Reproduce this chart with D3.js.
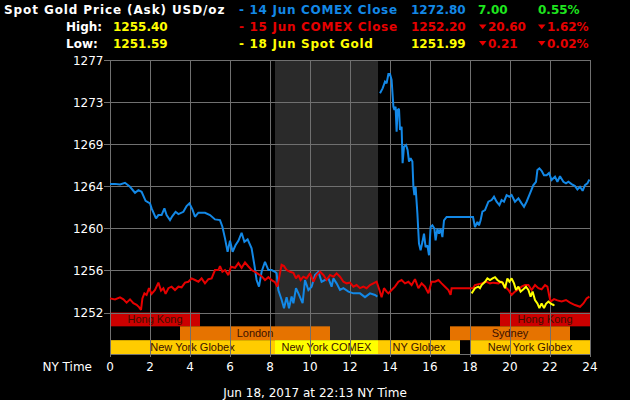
<!DOCTYPE html>
<html><head><meta charset="utf-8">
<script src="https://cdn.jsdelivr.net/npm/d3@7"></script>
<style>html,body{margin:0;padding:0;background:#000;}svg{display:block}</style>
</head><body>
<svg id="c" width="630" height="400"></svg>
<script>
// ---------------- DATA ----------------
const titleText = "Spot Gold Price (Ask) USD/oz";
const statLabels = ["High:", "Low:"];
const statValues = ["1255.40", "1251.59"];
const seriesNames = ["14 Jun COMEX Close", "15 Jun COMEX Close", "18 Jun Spot Gold"];
const seriesClose = ["1272.80", "1252.20", "1251.99"];
const seriesChange = ["7.00", "20.60", "0.21"];
const seriesPct = ["0.55%", "1.62%", "0.02%"];
const seriesDown = [false, true, true];

const xTickValues = [0, 2, 4, 6, 8, 10, 12, 14, 16, 18, 20, 22, 24];
const yTickValues = [1252, 1256.17, 1260.33, 1264.5, 1268.67, 1272.83, 1277];
const yTickLabels = ["1252", "1256", "1260", "1264", "1269", "1273", "1277"];
const xAxisTitle = "NY Time";
const footerText = "Jun 18, 2017 at 22:13 NY Time";

const closedPeriod = [8.25, 13.4];

const sessionNames = ["Hong Kong", "London", "New York Globex", "New York COMEX", "NY Globex", "Hong Kong", "Sydney", "New York Globex"];
const sessionStart = [0, 3.5, 0, 8.25, 13.4, 19.5, 17, 18];
const sessionEnd   = [4.5, 11, 8.25, 13.4, 17.5, 24, 23, 24];
const sessionRow   = [0, 1, 2, 2, 2, 0, 1, 2];
const sessionKind  = ["asia", "europe", "globex", "comex", "globex", "asia", "europe", "globex"];

const jun14 = [[0,1264.73],[0.25,1264.75],[0.5,1264.7],[0.75,1264.86],[1.0,1264.46],[1.25,1263.87],[1.42,1264.13],[1.58,1263.97],[1.78,1263.07],[2.0,1262.82],[2.08,1262.32],[2.3,1261.33],[2.42,1261.66],[2.58,1261.66],[2.72,1262.32],[2.83,1261.66],[3.0,1261.16],[3.12,1261.56],[3.28,1261.98],[3.42,1261.76],[3.67,1261.98],[3.83,1262.55],[3.97,1262.82],[4.12,1262.22],[4.25,1261.49],[4.42,1261.89],[4.75,1261.89],[5.0,1261.66],[5.25,1261.23],[5.5,1261.16],[5.62,1260.5],[5.75,1259.35],[5.88,1258.02],[6.0,1259.11],[6.13,1258.02],[6.28,1258.69],[6.42,1259.11],[6.58,1259.9],[6.72,1259.01],[6.88,1259.25],[7.08,1258.36],[7.22,1256.7],[7.33,1255.22],[7.45,1254.56],[7.58,1256.04],[7.75,1257.03],[7.92,1256.21],[8.08,1256.21],[8.25,1256.04],[8.33,1255.9],[8.42,1254.2],[8.58,1253.26],[8.7,1252.43],[8.83,1253.52],[8.95,1252.43],[9.08,1253.58],[9.17,1252.92],[9.3,1254.41],[9.42,1253.9],[9.5,1253.52],[9.63,1252.92],[9.75,1255.22],[9.92,1254.23],[10.08,1254.56],[10.25,1255.72],[10.42,1256.04],[10.58,1255.05],[10.75,1255.22],[10.92,1255.38],[11.08,1254.56],[11.17,1255.38],[11.33,1254.89],[11.5,1254.23],[11.67,1254.41],[11.92,1254.07],[12.17,1253.9],[12.5,1253.9],[12.75,1253.52],[13.0,1253.9],[13.25,1253.74],[13.37,1253.58],[13.45,null],[13.5,1273.73],[13.63,1274.22],[13.75,1274.88],[13.83,1274.72],[13.92,1275.64],[14.0,1275.64],[14.08,1275.05],[14.17,1272.4],[14.22,1272.08],[14.28,1272.4],[14.33,1269.93],[14.38,1272.08],[14.45,1272.2],[14.5,1270.1],[14.58,1270.42],[14.63,1266.8],[14.7,1268.44],[14.8,1268.61],[14.88,1268.11],[14.95,1266.96],[15.03,1267.3],[15.12,1266.96],[15.17,1264.46],[15.22,1263.64],[15.28,1264.46],[15.37,1261.79],[15.45,1258.82],[15.53,1258.16],[15.62,1258.98],[15.7,1259.81],[15.78,1258.49],[15.87,1258.65],[15.95,1257.67],[16.03,1260.47],[16.12,1260.64],[16.22,1260.31],[16.28,1259.15],[16.37,1260.31],[16.45,1259.81],[16.53,1260.31],[16.62,1259.48],[16.7,1261.14],[16.83,1261.47],[17.0,1261.47],[18.15,1261.47],[18.25,1260.47],[18.37,1260.97],[18.45,1260.64],[18.53,1261.14],[18.62,1262.0],[18.75,1262.15],[18.92,1262.98],[19.08,1263.15],[19.2,1263.48],[19.33,1262.98],[19.47,1262.65],[19.58,1263.15],[19.7,1262.98],[19.83,1263.64],[19.97,1263.48],[20.08,1263.64],[20.25,1262.98],[20.42,1263.31],[20.58,1262.82],[20.7,1262.48],[20.83,1262.98],[21.0,1263.81],[21.17,1264.63],[21.3,1264.96],[21.37,1266.12],[21.47,1266.29],[21.58,1266.05],[21.7,1265.6],[21.83,1265.6],[21.95,1265.83],[22.08,1265.13],[22.25,1265.46],[22.37,1264.96],[22.5,1265.51],[22.67,1264.96],[22.8,1264.8],[22.92,1264.96],[23.08,1264.73],[23.25,1264.53],[23.37,1264.2],[23.5,1264.46],[23.63,1264.07],[23.75,1264.63],[23.87,1264.8],[23.97,1265.19]];

const jun15 = [[0,1253.4],[0.25,1253.3],[0.5,1253.5],[0.67,1253.3],[0.83,1252.98],[1.0,1253.3],[1.17,1252.93],[1.33,1252.76],[1.45,1252.53],[1.55,1252.26],[1.62,1253.4],[1.72,1253.9],[1.83,1253.74],[1.95,1254.41],[2.08,1253.85],[2.25,1254.23],[2.42,1254.96],[2.55,1254.17],[2.67,1254.41],[2.78,1253.85],[2.92,1254.41],[3.08,1254.56],[3.25,1254.23],[3.42,1254.56],[3.58,1254.5],[3.75,1254.96],[3.92,1255.05],[4.08,1255.38],[4.25,1255.22],[4.42,1255.05],[4.58,1255.38],[4.75,1254.89],[4.92,1255.3],[5.08,1255.38],[5.25,1256.21],[5.42,1256.21],[5.5,1256.6],[5.62,1256.04],[5.75,1256.21],[5.92,1255.71],[6.05,1256.53],[6.25,1256.43],[6.42,1256.9],[6.58,1256.43],[6.75,1256.96],[6.92,1256.56],[7.08,1256.21],[7.25,1256.04],[7.42,1255.8],[7.58,1255.6],[7.75,1255.22],[7.92,1255.5],[8.08,1255.2],[8.25,1255.0],[8.37,1254.56],[8.5,1255.9],[8.58,1256.73],[8.7,1256.6],[8.83,1256.21],[9.0,1256.04],[9.17,1255.94],[9.3,1255.38],[9.42,1255.72],[9.53,1255.22],[9.67,1255.55],[9.83,1255.38],[10.0,1255.88],[10.17,1255.05],[10.33,1255.72],[10.5,1256.04],[10.67,1255.72],[10.83,1255.22],[11.0,1255.72],[11.17,1255.55],[11.33,1255.88],[11.5,1255.55],[11.67,1255.05],[11.83,1254.89],[12.0,1254.96],[12.17,1254.56],[12.33,1254.72],[12.5,1254.41],[12.67,1254.56],[12.83,1254.41],[13.0,1254.72],[13.17,1254.89],[13.33,1255.05],[13.47,1254.23],[13.58,1253.52],[13.7,1254.41],[13.83,1254.07],[13.92,1253.9],[14.08,1254.23],[14.25,1254.56],[14.42,1255.05],[14.58,1255.22],[14.75,1254.89],[14.92,1255.05],[15.08,1254.72],[15.25,1255.3],[15.42,1254.41],[15.58,1254.89],[15.75,1254.56],[15.92,1253.9],[16.08,1255.05],[16.25,1255.05],[16.42,1255.22],[16.58,1254.89],[16.75,1254.56],[16.92,1254.23],[17.03,1253.74],[17.08,1254.41],[18.15,1254.41],[18.25,1254.72],[18.58,1254.89],[18.83,1255.05],[19.0,1254.89],[19.17,1254.96],[19.42,1254.89],[19.58,1255.05],[19.75,1254.56],[19.92,1254.23],[20.08,1253.74],[20.25,1254.07],[20.42,1254.3],[20.58,1254.56],[20.75,1254.72],[20.92,1254.72],[21.08,1254.23],[21.25,1254.72],[21.42,1254.41],[21.58,1254.3],[21.75,1254.72],[21.87,1254.56],[21.97,1253.58],[22.03,1253.09],[22.2,1253.33],[22.37,1253.2],[22.58,1253.09],[22.8,1253.24],[23.0,1252.98],[23.25,1252.74],[23.5,1252.57],[23.67,1252.9],[23.83,1253.4],[23.97,1253.58]];

const jun18 = [[18.08,1253.9],[18.25,1254.41],[18.42,1254.56],[18.5,1254.41],[18.58,1254.72],[18.75,1255.05],[18.87,1255.38],[19.0,1255.22],[19.13,1255.38],[19.25,1255.5],[19.37,1255.22],[19.5,1255.05],[19.63,1254.96],[19.75,1254.41],[19.87,1255.38],[19.97,1255.05],[20.08,1255.38],[20.2,1254.89],[20.3,1254.23],[20.42,1254.56],[20.53,1254.07],[20.67,1254.3],[20.8,1254.56],[20.92,1254.23],[21.03,1253.58],[21.13,1254.07],[21.25,1253.24],[21.37,1252.9],[21.47,1252.43],[21.58,1252.9],[21.7,1252.43],[21.8,1252.86],[21.92,1253.09],[22.03,1252.9],[22.17,1252.74],[22.22,1252.8]];

// ---------------- STYLE ----------------
const BLUE = "#1388e6", RED = "#e60000", YELLOW = "#ffff00", GREEN = "#1ee61e";
const seriesColors = [BLUE, RED, YELLOW];
const kindColor = {asia: "#cc0000", europe: "#e67300", globex: "#ffcc00", comex: "#ffff00"};
const GRID = "#707070";
const FONT = "'DejaVu Sans', Verdana, sans-serif";

const W = 630, H = 400;
const svg = d3.select("#c");
svg.append("rect").attr("width", W).attr("height", H).attr("fill", "#000");

const x = d3.scaleLinear().domain([0, 24]).range([110, 590]);
const y = d3.scaleLinear().domain([1252, 1277]).range([312.5, 60.3]);
const rowScale = d3.scaleBand().domain([0, 1, 2]).range([312.5, 354]);
const plotTop = y(1277), plotBottom = rowScale.range()[1];

// closed period shading
svg.append("rect")
  .attr("x", x(closedPeriod[0])).attr("y", plotTop)
  .attr("width", x(closedPeriod[1]) - x(closedPeriod[0]))
  .attr("height", plotBottom - plotTop)
  .attr("fill", "#2a2a2a");

// session bars
const sessions = sessionNames.map((n, i) => ({name: n, s: sessionStart[i], e: sessionEnd[i], row: sessionRow[i], kind: sessionKind[i]}));
const sg = svg.append("g");
sg.selectAll("rect").data(sessions).join("rect")
  .attr("x", d => x(d.s)).attr("y", d => rowScale(d.row))
  .attr("width", d => x(d.e) - x(d.s)).attr("height", rowScale.bandwidth())
  .attr("fill", d => kindColor[d.kind]);

// grid (over bars)
const grid = svg.append("g").attr("stroke", GRID).attr("stroke-width", 1).attr("shape-rendering", "crispEdges");
grid.selectAll("line.v").data(xTickValues).join("line").attr("class", "v")
  .attr("x1", d => Math.round(x(d)) + 0.5).attr("x2", d => Math.round(x(d)) + 0.5)
  .attr("y1", plotTop).attr("y2", plotBottom + 3);
grid.selectAll("line.h").data(yTickValues).join("line").attr("class", "h")
  .attr("x1", x(0) - 6).attr("x2", x(24))
  .attr("y1", d => Math.round(y(d)) + 0.5).attr("y2", d => Math.round(y(d)) + 0.5);
grid.append("line").attr("x1", x(0)).attr("x2", x(24))
  .attr("y1", plotBottom + 0.5).attr("y2", plotBottom + 0.5);

// session labels
sg.selectAll("text").data(sessions).join("text")
  .attr("x", d => (x(d.s) + x(d.e)) / 2)
  .attr("y", d => rowScale(d.row) + rowScale.bandwidth() / 2 + 4)
  .attr("text-anchor", "middle")
  .attr("font-family", "'Liberation Sans', Arial, sans-serif").attr("font-size", 11)
  .attr("fill", "#3a1000")
  .text(d => d.name);

// y labels
svg.append("g").selectAll("text").data(yTickValues).join("text")
  .attr("x", 103.5).attr("y", d => y(d) + 4.5)
  .attr("text-anchor", "end").attr("fill", "#fff")
  .attr("font-family", FONT).attr("font-size", 12)
  .text((d, i) => yTickLabels[i]);

// x labels
svg.append("g").selectAll("text").data(xTickValues).join("text")
  .attr("x", d => x(d)).attr("y", 371)
  .attr("text-anchor", "middle").attr("fill", "#fff")
  .attr("font-family", FONT).attr("font-size", 12)
  .text(d => d);
svg.append("text").attr("x", 92).attr("y", 371).attr("text-anchor", "end")
  .attr("fill", "#fff").attr("font-family", FONT).attr("font-size", 12).text(xAxisTitle);
svg.append("text").attr("x", 315).attr("y", 396.5).attr("text-anchor", "middle")
  .attr("fill", "#fff").attr("font-family", FONT).attr("font-size", 12).text(footerText);

// price lines
const line = d3.line().defined(d => d[1] !== null).x(d => x(d[0])).y(d => y(d[1]));
[jun14, jun15, jun18].forEach((s, i) => {
  svg.append("path").datum(s).attr("d", line)
    .attr("fill", "none").attr("stroke", seriesColors[i]).attr("stroke-width", 2)
    .attr("stroke-linejoin", "miter").attr("stroke-miterlimit", 2);
});

// header
const hdr = svg.append("g").attr("font-family", FONT).attr("font-weight", "bold").attr("font-size", 12);
const rowBase = [13.5, 31, 47.5];
hdr.append("text").attr("x", 4).attr("y", rowBase[0]).attr("fill", "#fff")
  .attr("letter-spacing", 0.9).text(titleText);
statLabels.forEach((l, i) => {
  hdr.append("text").attr("x", 66).attr("y", rowBase[i + 1]).attr("fill", "#fff").text(l);
  hdr.append("text").attr("x", 113).attr("y", rowBase[i + 1]).attr("fill", YELLOW).text(statValues[i]);
});
seriesNames.forEach((n, i) => {
  const b = rowBase[i], c = seriesColors[i];
  hdr.append("text").attr("x", 239).attr("y", b).attr("fill", c).attr("letter-spacing", 0.7).text("- " + n);
  hdr.append("text").attr("x", 411).attr("y", b).attr("fill", c).text(seriesClose[i]);
  const chCol = seriesDown[i] ? RED : GREEN;
  if (seriesDown[i]) {
    [479, 538].forEach(tx => {
      hdr.append("path").attr("d", `M${tx},${b - 6.5}L${tx + 7.5},${b - 6.5}L${tx + 3.75},${b - 1.8}Z`).attr("fill", RED);
    });
    hdr.append("text").attr("x", 488).attr("y", b).attr("fill", chCol).text(seriesChange[i]);
    hdr.append("text").attr("x", 547).attr("y", b).attr("fill", chCol).text(seriesPct[i]);
  } else {
    hdr.append("text").attr("x", 478).attr("y", b).attr("fill", chCol).text(seriesChange[i]);
    hdr.append("text").attr("x", 538).attr("y", b).attr("fill", chCol).text(seriesPct[i]);
  }
});
</script>
</body></html>
